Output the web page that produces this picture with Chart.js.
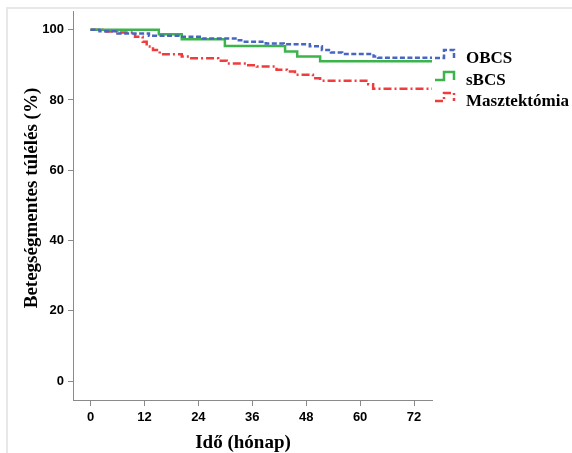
<!DOCTYPE html>
<html>
<head>
<meta charset="utf-8">
<script src="https://cdn.jsdelivr.net/npm/chart.js@4"></script>
<style>
  html, body { margin: 0; padding: 0; background: #fff; }
  canvas { display: block; }
</style>
</head>
<body>
<canvas id="km" width="572" height="453"></canvas>
<script>
// tick labels
const xTicks = [0, 12, 24, 36, 48, 60, 72];
const yTicks = [0, 20, 40, 60, 80, 100];

// survival curves (month, %) - value changes at each time point
const obcsTime = [0, 2, 6, 13, 20, 25, 33, 34, 39, 43, 48.8, 51.5, 53.5, 56, 63, 64, 76];
const obcsSurv = [100, 99.6, 98.9, 98.3, 98.0, 97.5, 97.0, 96.6, 96.1, 95.9, 95.3, 94.2, 93.5, 93.1, 92.4, 92.0, 92.0];

const sbcsTime = [0, 15.2, 20.3, 29.9, 43.3, 46, 51.1, 76];
const sbcsSurv = [100, 98.7, 97.3, 95.4, 93.8, 92.4, 91.0, 91.0];

const masztTime = [0, 3, 6, 9.5, 9.9, 11.6, 12.5, 13.9, 15.4, 20.3, 22.1, 28.4, 30.3, 34.7, 37, 41.4, 43.7, 45.5, 49.5, 51.1, 61.8, 62.9, 76];
const masztSurv = [100, 99.5, 99.2, 98.7, 98.0, 96.6, 95.2, 94.2, 93.0, 92.4, 91.9, 91.2, 90.4, 89.9, 89.5, 88.6, 88.1, 87.2, 86.2, 85.5, 84.5, 83.2, 83.2];

const seriesNames = ['OBCS', 'sBCS', 'Masztektómia'];

const serifBold = '"Liberation Serif", "Times New Roman", serif';
const sansBold = '"Liberation Sans", Arial, sans-serif';

function toPoints(t, s) {
  return t.map((x, i) => ({ x: x, y: s[i] }));
}

const datasets = [
  { label: seriesNames[0], data: toPoints(obcsTime, obcsSurv), borderColor: '#4766c0', borderDash: [5, 2.5] },
  { label: seriesNames[1], data: toPoints(sbcsTime, sbcsSurv), borderColor: '#3cb44b', borderDash: [] },
  { label: seriesNames[2], data: toPoints(masztTime, masztSurv), borderColor: '#f03c3c', borderDash: [8, 3, 2, 3] }
].map(d => Object.assign(d, { stepped: true, borderWidth: 2.5, pointRadius: 0, fill: false }));

// faint frame, axis titles and the step-shaped legend
const decorations = {
  id: 'decorations',
  beforeDraw(chart) {
    const ctx = chart.ctx;
    ctx.save();
    ctx.strokeStyle = '#e8e8e8';
    ctx.lineWidth = 2;
    ctx.beginPath();
    ctx.moveTo(7, chart.height);
    ctx.lineTo(7, 8);
    ctx.lineTo(chart.width, 8);
    ctx.stroke();
    ctx.restore();
  },
  afterDraw(chart) {
    const ctx = chart.ctx;
    const area = chart.chartArea;
    ctx.save();
    ctx.fillStyle = '#000';
    ctx.font = 'bold 19px ' + serifBold;
    ctx.textAlign = 'center';
    ctx.textBaseline = 'middle';
    ctx.fillText('Idő (hónap)', area.left + 170, 443);

    ctx.save();
    ctx.translate(32, 198);
    ctx.rotate(-Math.PI / 2);
    ctx.fillText('Betegségmentes túlélés (%)', 0, 0);
    ctx.restore();

    const rows = [58, 80, 101];
    chart.data.datasets.forEach((ds, i) => {
      const yLow = rows[i];
      const x0 = area.right + 3;
      ctx.strokeStyle = ds.borderColor;
      ctx.lineWidth = 2.5;
      ctx.setLineDash(ds.borderDash);
      ctx.beginPath();
      ctx.moveTo(x0, yLow);
      ctx.lineTo(x0 + 9, yLow);
      ctx.lineTo(x0 + 9, yLow - 8);
      ctx.lineTo(x0 + 19, yLow - 8);
      ctx.lineTo(x0 + 19, yLow);
      ctx.stroke();
      ctx.setLineDash([]);
      ctx.fillStyle = '#000';
      ctx.font = 'bold 17px ' + serifBold;
      ctx.textAlign = 'left';
      ctx.fillText(ds.label, 466, yLow + 1);
    });
    ctx.restore();
  }
};

const axisGrid = { drawOnChartArea: false, drawTicks: true, color: '#8a8a8a', lineWidth: 1 };
const tickFont = { family: sansBold, size: 13, weight: 'bold' };

new Chart(document.getElementById('km'), {
  type: 'line',
  data: { datasets: datasets },
  options: {
    responsive: false,
    animation: false,
    layout: { padding: { top: 10, right: 140, left: 0, bottom: 0 } },
    plugins: { legend: { display: false }, tooltip: { enabled: false } },
    scales: {
      x: {
        type: 'linear',
        min: -3.9,
        max: 76,
        afterBuildTicks: s => { s.ticks = xTicks.map(v => ({ value: v })); },
        afterFit: s => { s.height = 53; },
        grid: Object.assign({ tickLength: 6 }, axisGrid),
        border: { display: true, color: '#8a8a8a', width: 1 },
        ticks: { font: tickFont, color: '#000', padding: 4, autoSkip: false, maxRotation: 0 }
      },
      y: {
        type: 'linear',
        min: -5.38,
        max: 105.1,
        afterBuildTicks: s => { s.ticks = yTicks.map(v => ({ value: v })); },
        afterFit: s => { s.width = 73; },
        grid: Object.assign({ tickLength: 5 }, axisGrid),
        border: { display: true, color: '#8a8a8a', width: 1 },
        ticks: { font: tickFont, color: '#000', padding: 4, autoSkip: false }
      }
    }
  },
  plugins: [decorations]
});
</script>
</body>
</html>
